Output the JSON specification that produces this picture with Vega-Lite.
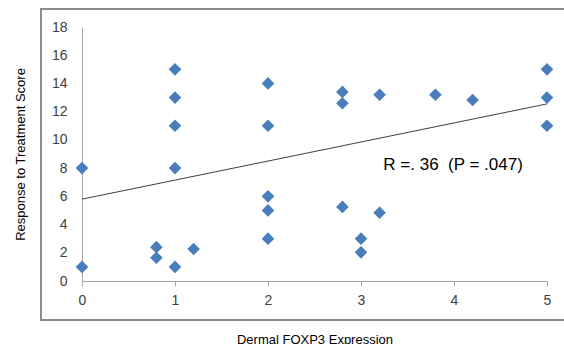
{
  "$schema": "https://vega.github.io/schema/vega-lite/v6.json",
  "width": 465,
  "height": 254,
  "autosize": "none",
  "padding": {"left": 82, "top": 27, "right": 17, "bottom": 63},
  "background": "white",
  "config": {
    "view": {"stroke": null},
    "font": "Liberation Sans",
    "axis": {"grid": false, "labelFont": "Liberation Sans", "titleFont": "Liberation Sans", "labelFontSize": 14, "labelColor": "#404040", "titleFontSize": 13, "titleFontWeight": "normal", "titleColor": "#000000", "domainColor": "#a6a6a6", "tickColor": "#a6a6a6", "labelOverlap": false, "labelFlush": false, "format": "d"}
  },
  "datasets": {
    "points": [
      {"foxp3": 0, "score": 8},
      {"foxp3": 0, "score": 1},
      {"foxp3": 0.8, "score": 2.4},
      {"foxp3": 0.8, "score": 1.65},
      {"foxp3": 1, "score": 15},
      {"foxp3": 1, "score": 13},
      {"foxp3": 1, "score": 11},
      {"foxp3": 1, "score": 8},
      {"foxp3": 1, "score": 1},
      {"foxp3": 1.2, "score": 2.27},
      {"foxp3": 2, "score": 14},
      {"foxp3": 2, "score": 11},
      {"foxp3": 2, "score": 6},
      {"foxp3": 2, "score": 5},
      {"foxp3": 2, "score": 3},
      {"foxp3": 2.8, "score": 13.4},
      {"foxp3": 2.8, "score": 12.6},
      {"foxp3": 2.8, "score": 5.25},
      {"foxp3": 3, "score": 3},
      {"foxp3": 3, "score": 2.03},
      {"foxp3": 3.2, "score": 13.2},
      {"foxp3": 3.2, "score": 4.84},
      {"foxp3": 3.8, "score": 13.2},
      {"foxp3": 4.2, "score": 12.83},
      {"foxp3": 5, "score": 15},
      {"foxp3": 5, "score": 13},
      {"foxp3": 5, "score": 11}
    ],
    "trend": [
      {"foxp3": 0, "score": 5.8},
      {"foxp3": 5, "score": 12.55}
    ]
  },
  "layer": [
    {
      "data": {"name": "points"},
      "mark": {"type": "point", "shape": "diamond", "filled": true, "color": "#4a7ebb", "opacity": 1, "size": 160, "clip": false},
      "encoding": {
        "x": {"field": "foxp3", "type": "quantitative", "title": "Dermal FOXP3 Expression",
              "scale": {"domain": [0, 5], "nice": false, "zero": false},
              "axis": {"values": [0, 1, 2, 3, 4, 5], "tickSize": 5, "labelPadding": 7, "titlePadding": 26, "domainWidth": 1, "format": "d", "labelOverlap": false}},
        "y": {"field": "score", "type": "quantitative", "title": "Response to Treatment Score",
              "scale": {"domain": [0, 18], "nice": false, "zero": false},
              "axis": {"values": [0, 2, 4, 6, 8, 10, 12, 14, 16, 18], "tickCount": 10, "ticks": false, "labelPadding": 15, "titlePadding": 24, "labelAlign": "right", "labelBaseline": "middle", "format": "d", "labelOverlap": false}}
      }
    },
    {
      "data": {"values": [{}]},
      "mark": {"type": "rect", "fill": null, "stroke": "#8c8c8c", "strokeWidth": 2, "clip": false},
      "encoding": {
        "x": {"datum": -0.441, "type": "quantitative", "title": "Dermal FOXP3 Expression",
              "axis": {"values": [0, 1, 2, 3, 4, 5], "tickSize": 5, "labelPadding": 7, "titlePadding": 26, "domainWidth": 1, "format": "d", "labelOverlap": false}},
        "x2": {"datum": 5.3},
        "y": {"datum": 19.28, "type": "quantitative", "title": "Response to Treatment Score",
              "axis": {"values": [0, 2, 4, 6, 8, 10, 12, 14, 16, 18], "tickCount": 10, "ticks": false, "labelPadding": 15, "titlePadding": 24, "labelAlign": "right", "labelBaseline": "middle", "format": "d", "labelOverlap": false}},
        "y2": {"datum": -2.76}
      }
    },
    {
      "data": {"name": "trend"},
      "mark": {"type": "line", "color": "#404040", "strokeWidth": 1},
      "encoding": {
        "x": {"field": "foxp3", "type": "quantitative", "title": "Dermal FOXP3 Expression",
              "axis": {"values": [0, 1, 2, 3, 4, 5], "tickSize": 5, "labelPadding": 7, "titlePadding": 26, "domainWidth": 1, "format": "d", "labelOverlap": false}},
        "y": {"field": "score", "type": "quantitative", "title": "Response to Treatment Score",
              "axis": {"values": [0, 2, 4, 6, 8, 10, 12, 14, 16, 18], "tickCount": 10, "ticks": false, "labelPadding": 15, "titlePadding": 24, "labelAlign": "right", "labelBaseline": "middle", "format": "d", "labelOverlap": false}}
      }
    },
    {
      "data": {"values": [{"label": "R =. 36\u00a0\u00a0(P = .047)"}]},
      "mark": {"type": "text", "align": "left", "baseline": "middle", "fontSize": 17, "color": "#000000", "font": "Liberation Sans"},
      "encoding": {
        "x": {"datum": 3.24, "type": "quantitative", "title": "Dermal FOXP3 Expression",
              "axis": {"values": [0, 1, 2, 3, 4, 5], "tickSize": 5, "labelPadding": 7, "titlePadding": 26, "domainWidth": 1, "format": "d", "labelOverlap": false}},
        "y": {"datum": 8.2, "type": "quantitative", "title": "Response to Treatment Score",
              "axis": {"values": [0, 2, 4, 6, 8, 10, 12, 14, 16, 18], "tickCount": 10, "ticks": false, "labelPadding": 15, "titlePadding": 24, "labelAlign": "right", "labelBaseline": "middle", "format": "d", "labelOverlap": false}},
        "text": {"field": "label"}
      }
    }
  ]
}
